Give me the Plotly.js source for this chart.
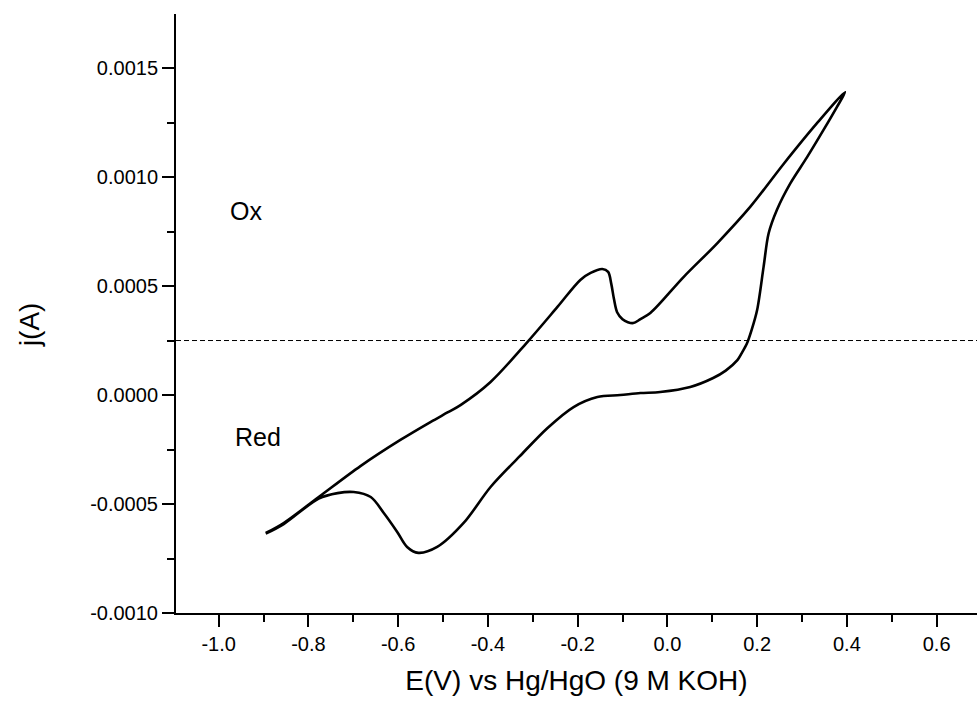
<!DOCTYPE html>
<html>
<head>
<meta charset="utf-8">
<script src="https://cdn.plot.ly/plotly-3.0.1.min.js"></script>
<style>html,body{margin:0;padding:0;background:#fff;}#chart{width:977px;height:703px;}</style>
</head>
<body>
<div id="chart"></div>
<script>
// Forward (anodic) scan: -0.9 V -> 0.4 V
const fwdE = [-0.895,-0.855,-0.777,-0.684,-0.595,-0.528,-0.49,-0.461,-0.394,-0.312,-0.245,-0.194,-0.171,-0.145,-0.132,-0.125,-0.119,-0.112,-0.1,-0.088,-0.076,-0.06,-0.038,0.036,0.111,0.185,0.259,0.333,0.396];
const fwdJ = [-0.000633,-0.000587,-0.000468,-0.000326,-0.000206,-0.000124,-0.00008,-0.000046,0.00006,0.000243,0.000404,0.000528,0.00056,0.000578,0.000565,0.00051,0.00044,0.00038,0.000348,0.000334,0.00033,0.000348,0.000376,0.000541,0.000696,0.000864,0.00106,0.001246,0.00139];
// Reverse (cathodic) scan: 0.4 V -> -0.9 V
const revE = [0.396,0.378,0.348,0.311,0.274,0.244,0.2257,0.2145,0.2,0.188,0.177,0.165,0.156,0.13,0.102,0.051,-0.016,-0.06,-0.105,-0.156,-0.209,-0.267,-0.33,-0.394,-0.454,-0.513,-0.555,-0.58,-0.602,-0.632,-0.661,-0.699,-0.735,-0.777,-0.855,-0.895];
const revJ = [0.00139,0.001322,0.001216,0.00109,0.000971,0.000849,0.000742,0.000589,0.00039,0.0003,0.000235,0.00019,0.00016,0.000112,0.000078,0.000037,0.000014,0.000009,0.0,-0.000009,-0.000055,-0.000151,-0.000283,-0.000422,-0.000587,-0.000697,-0.000724,-0.000697,-0.000628,-0.000541,-0.000468,-0.000445,-0.00045,-0.000475,-0.000592,-0.000636];
const refLevel = 0.00025;
const xTickVals = [-1.0,-0.8,-0.6,-0.4,-0.2,0.0,0.2,0.4,0.6];
const xTickText = ["-1.0","-0.8","-0.6","-0.4","-0.2","0.0","0.2","0.4","0.6"];
const yTickVals = [-0.001,-0.0005,0,0.0005,0.001,0.0015];
const yTickText = ["-0.0010","-0.0005","0.0000","0.0005","0.0010","0.0015"];
const labels = [{text:"Ox", x:-0.94, y:0.000844},{text:"Red", x:-0.913, y:-0.000193}];

const FONT = "Liberation Sans, Arial, sans-serif";
const trace = {
  x: fwdE.concat(revE.slice(1)),
  y: fwdJ.concat(revJ.slice(1)),
  mode: "lines",
  line: {color: "#000", width: 2.6, shape: "spline", smoothing: 0.9},
  hoverinfo: "skip"
};
const layout = {
  width: 977, height: 703,
  margin: {l: 176, r: 0, t: 14, b: 90},
  paper_bgcolor: "#fff", plot_bgcolor: "#fff",
  showlegend: false,
  font: {family: FONT, color: "#000"},
  xaxis: {
    range: [-1.095, 0.69], showgrid: false, zeroline: false,
    showline: true, linecolor: "#000", linewidth: 2,
    ticks: "outside", ticklen: 12, tickwidth: 2, tickcolor: "#000",
    tickvals: xTickVals, ticktext: xTickText,
    tickfont: {size: 20, family: FONT},
    minor: {dtick: 0.1, ticks: "outside", ticklen: 7, tickwidth: 2, tickcolor: "#000", showgrid: false},
    title: {text: "E(V) vs Hg/HgO (9 M KOH)", font: {size: 28, family: FONT}, standoff: 16}
  },
  yaxis: {
    range: [-0.001, 0.001748], showgrid: false, zeroline: false,
    showline: true, linecolor: "#000", linewidth: 2,
    ticks: "outside", ticklen: 12, tickwidth: 2, tickcolor: "#000",
    tickvals: yTickVals, ticktext: yTickText,
    tickfont: {size: 20, family: FONT},
    minor: {dtick: 0.00025, ticks: "outside", ticklen: 7, tickwidth: 2, tickcolor: "#000", showgrid: false}
  },
  shapes: [{type: "line", xref: "paper", x0: 0, x1: 1, yref: "y", y0: refLevel, y1: refLevel,
            line: {color: "#000", width: 1, dash: "5px,3px"}}],
  annotations: labels.map(l => ({text: l.text, x: l.x, y: l.y, xref: "x", yref: "y", showarrow: false,
            font: {size: 25, family: FONT, color: "#000"}})).concat([
    {text: "j(A)", xref: "paper", yref: "paper", x: -0.182, y: 0.481, showarrow: false,
     textangle: -90, font: {size: 28, family: FONT, color: "#000"}, xanchor: "center", yanchor: "middle"}
  ])
};
Plotly.newPlot("chart", [trace], layout, {displayModeBar: false, staticPlot: true});
</script>
</body>
</html>
